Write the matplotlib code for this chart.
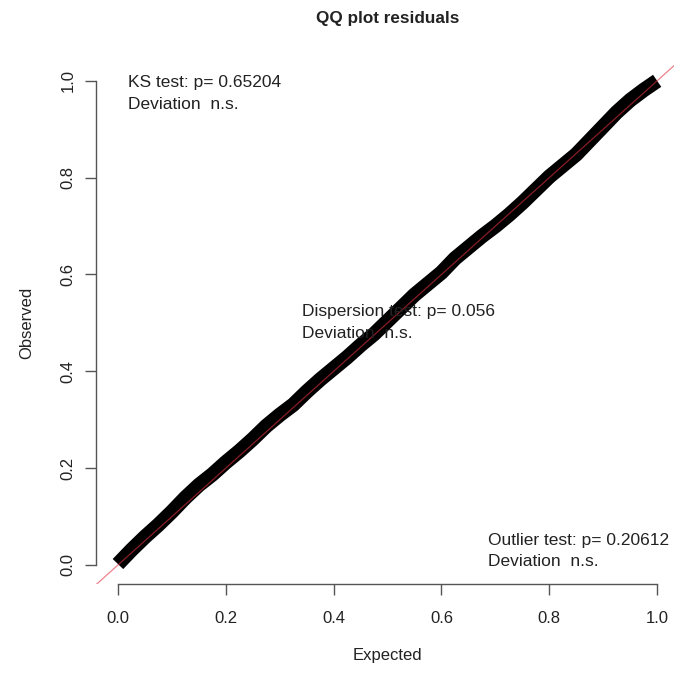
import numpy as np
import matplotlib
matplotlib.use('Agg')
import matplotlib.pyplot as plt

plt.rcParams['font.family'] = ['Liberation Sans', 'DejaVu Sans']

expected = [0.0, 0.025, 0.05, 0.075, 0.1, 0.125, 0.15, 0.175, 0.2, 0.225,
            0.25, 0.275, 0.3, 0.325, 0.35, 0.375, 0.4, 0.425, 0.45, 0.475,
            0.5, 0.525, 0.55, 0.575, 0.6, 0.625, 0.65, 0.675, 0.7, 0.725,
            0.75, 0.775, 0.8, 0.825, 0.85, 0.875, 0.9, 0.925, 0.95, 0.975, 1.0]
observed = [0.002, 0.031, 0.058, 0.083, 0.110, 0.139, 0.165, 0.187, 0.212, 0.235,
            0.260, 0.287, 0.310, 0.331, 0.358, 0.383, 0.406, 0.429, 0.454, 0.477,
            0.504, 0.531, 0.558, 0.581, 0.604, 0.633, 0.656, 0.679, 0.700, 0.723,
            0.748, 0.775, 0.802, 0.825, 0.848, 0.877, 0.906, 0.935, 0.960, 0.981, 1.0]

ticks = [0.0, 0.2, 0.4, 0.6, 0.8, 1.0]
tick_labels = ['0.0', '0.2', '0.4', '0.6', '0.8', '1.0']

ks_text = ['KS test: p= 0.65204', 'Deviation  n.s.']
disp_text = ['Dispersion test: p= 0.056', 'Deviation  n.s.']
out_text = ['Outlier test: p= 0.20612', 'Deviation  n.s.']

txt_col = '#222222'
ax_col = '#555555'

fig = plt.figure(figsize=(6.74, 6.73), dpi=100)
ax = fig.add_axes([0.143, 0.1317, 0.864, 0.777])

ax.plot(expected, observed, color='black', lw=10.5, solid_capstyle='butt',
        solid_joinstyle='round', zorder=2)
ax.axline((0, 0), slope=1, color='#e23040', lw=0.9, alpha=0.6, zorder=3)

ax.set_xlim(-0.04, 1.04)
ax.set_ylim(-0.04, 1.04)

for s in ['top', 'right']:
    ax.spines[s].set_visible(False)
for s in ['left', 'bottom']:
    ax.spines[s].set_bounds(0, 1)
    ax.spines[s].set_color(ax_col)
    ax.spines[s].set_linewidth(1.0)

ax.set_xticks(ticks)
ax.set_xticklabels(tick_labels)
ax.set_yticks(ticks)
ax.set_yticklabels(tick_labels, rotation=90, va='center')
ax.tick_params(axis='both', direction='out', length=8, width=1.0, color=ax_col,
               labelcolor=txt_col, labelsize=12)
ax.tick_params(axis='x', pad=11)
ax.tick_params(axis='y', pad=7)

ax.set_xlabel('Expected', fontsize=12, color=txt_col, labelpad=16)
ax.set_ylabel('Observed', fontsize=12, color=txt_col, labelpad=19)
fig.text(0.575, 1 - 18.5 / 673, 'QQ plot residuals', fontsize=12.3,
         fontweight='bold', color=txt_col, ha='center', va='center')

fs = 12.5
ax.text(0.018, 0.996, ks_text[0], fontsize=fs, color=txt_col, va='center')
ax.text(0.018, 0.951, ks_text[1], fontsize=fs, color=txt_col, va='center')
ax.text(0.341, 0.524, disp_text[0], fontsize=fs, color=txt_col, va='center')
ax.text(0.341, 0.478, disp_text[1], fontsize=fs, color=txt_col, va='center')
ax.text(0.686, 0.0515, out_text[0], fontsize=fs, color=txt_col, va='center')
ax.text(0.686, 0.008, out_text[1], fontsize=fs, color=txt_col, va='center')

fig.savefig('out.png', dpi=100)
